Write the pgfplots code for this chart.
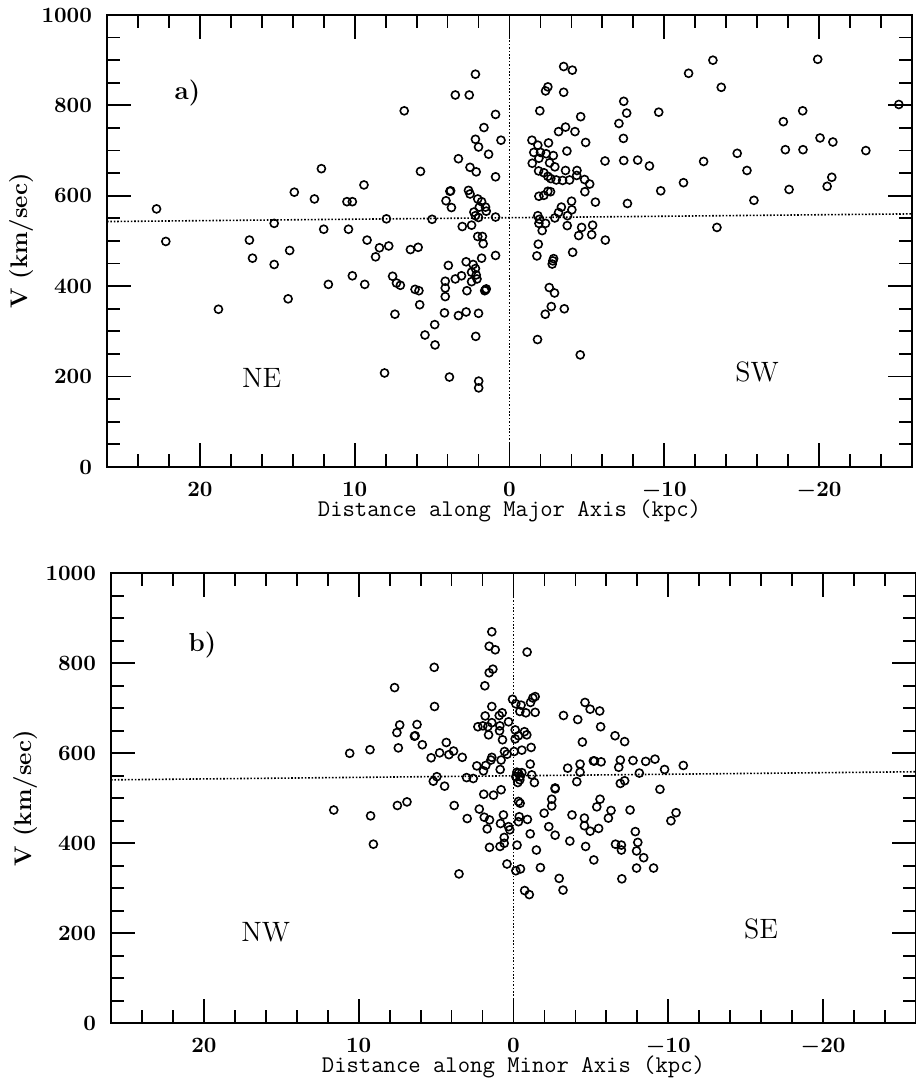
\documentclass[border=0pt]{standalone}
\usepackage{pgfplots}
\pgfplotsset{compat=1.18}

% velocities along the major axis (panel a)
\pgfplotstableread{
x y
2.2 869
3.5 823
2.6 823
6.8 788
0.9 780
1.65 751
2.2 725
0.55 723
2.0 708
1.35 692
3.3 682
2.55 663
2.15 653
5.75 654
0.9 642
12.15 660
9.4 624
13.9 608
12.6 593
10.5 587
10.15 587
3.85 610
3.8 611
2.65 612
2.55 604
4.1 589
3.75 574
2.05 593
1.8 587
1.95 575
1.55 575
1.5 566
2.3 564
2.2 556
2.0 552
0.9 553
22.8 571
22.2 499
15.2 539
7.95 549
5.0 548
3.05 532
2.45 535
12.0 526
10.4 526
16.8 502
9.2 502
2.05 510
1.75 510
1.7 494
16.6 462
14.2 479
8.4 485
7.8 489
8.65 465
6.4 481
5.9 486
0.9 468
1.8 462
15.2 448
3.95 446
2.8 454
2.35 448
2.2 439
2.45 431
2.15 425
10.15 423
3.1 423
3.5 416
4.15 411
2.45 410
2.1 416
11.7 404
9.35 404
7.55 422
7.3 407
7.05 402
6.1 393
5.85 390
4.15 396
2.75 390
1.55 392
1.5 394
1.6 390
4.15 377
14.3 372
18.8 349
5.8 359
7.4 338
4.2 341
3.3 335
2.8 343
2.0 340
5.46 292
4.81 270
4.83 315
2.18 289
8.07 208
3.88 199
1.99 190
1.99 175
-3.5 886
-4.06 878
-2.48 841
-2.33 832
-3.5 829
-1.96 788
-4.6 775
-3.17 742
-3.62 752
-4.23 742
-4.92 718
-1.45 723
-2.52 717
-1.83 712
-1.57 696
-2.0 696
-2.37 693
-2.83 689
-2.59 673
-2.93 664
-1.47 672
-1.9 683
-3.71 699
-1.88 655
-2.22 651
-2.48 643
-2.67 638
-3.02 635
-3.43 634
-3.88 635
-3.62 656
-4.36 656
-4.34 645
-4.85 636
-5.18 626
-4.87 609
-5.55 586
-1.9 599
-2.22 601
-2.48 610
-2.65 609
-4.01 588
-4.03 569
-3.35 575
-3.17 563
-2.93 551
-3.75 556
-1.83 556
-1.94 548
-1.9 539
-2.11 523
-2.33 539
-3.73 534
-4.66 530
-5.37 535
-4.47 512
-5.31 514
-6.19 502
-1.86 493
-1.77 467
-4.08 475
-2.85 461
-2.8 456
-2.76 449
-2.57 397
-2.91 385
-2.7 355
-2.31 338
-3.54 350
-1.81 282
-4.57 248
-6.17 677
-7.07 760
-7.38 809
-7.57 783
-7.36 727
-7.38 678
-8.28 679
-9.04 666
-7.62 583
-9.64 785
-9.77 611
-11.24 629
-11.57 871
-12.54 676
-13.14 900
-13.68 840
-13.4 530
-14.71 694
-15.34 656
-15.79 590
-17.69 764
-17.82 702
-18.06 614
-18.94 788
-18.96 702
-19.91 902
-20.06 728
-20.89 719
-20.82 641
-20.52 621
-23.02 700
-25.15 802
}\majortab

% velocities along the minor axis (panel b)
\pgfplotstableread{
x y
1.4 870
1.57 838
1.18 830
1.57 779
1.33 787
1.85 750
5.12 791
7.68 746
5.1 704
7.35 663
7.53 646
6.23 664
6.4 638
6.35 639
5.89 619
7.44 612
10.58 600
9.27 608
4.34 624
4.77 601
4.17 597
3.87 605
3.31 591
5.32 590
4.95 548
5.18 538
4.45 527
3.03 546
2.6 544
11.61 474
9.23 461
7.5 484
6.88 492
3.83 484
2.99 455
2.21 476
1.89 458
1.55 452
1.7 432
1.92 509
1.29 507
1.4 704
1.83 683
1.4 668
1.66 659
1.98 661
2.3 659
1.61 641
1.4 591
1.46 585
1.79 573
2.37 572
1.94 561
-0.88 825
0.06 720
-0.15 710
-1.4 726
-1.25 723
-1.1 713
-0.49 707
-0.41 693
-0.8 690
-1.4 691
0.73 690
0.92 684
0.32 670
0.88 661
0.9 650
-0.11 652
-0.71 648
-0.86 641
-0.32 639
-0.11 632
0.71 630
-0.54 607
-1.14 613
-0.04 604
0.58 604
0.41 598
0.8 585
0.86 564
-1.08 576
-0.22 558
-0.32 556
-0.54 557
-0.15 548
-0.43 548
-0.28 535
-0.41 541
-1.18 552
-1.35 535
-0.32 493
-0.43 489
-0.37 459
-0.32 448
-0.9 453
-1.08 421
0.65 463
0.84 444
0.32 437
0.24 430
0.6 413
0.8 519
-2.69 521
-2.69 523
-2.47 498
-2.47 483
-1.98 467
-2.28 437
-2.69 418
-3.78 463
-4.58 456
-4.58 439
-4.95 427
-5.5 433
-5.38 481
-5.59 498
-6.13 456
-6.3 473
-7.53 474
-7.87 426
-9.46 520
-10.17 450
-10.5 468
-3.5 567
-4.09 537
-4.3 576
-4.3 558
-5.16 583
-5.23 583
-5.66 581
-6.8 569
-6.9 585
-6.9 533
-7.18 539
-7.72 584
-8.13 556
-8.54 582
-9.14 587
-9.76 564
-10.97 573
-3.23 684
-4.15 675
-4.62 713
-4.95 698
-5.57 694
-5.63 659
-4.45 625
-6.56 639
-7.18 626
9.05 398
1.55 391
0.87 393
0.6 400
-0.23 396
0.42 354
-0.15 339
-0.45 343
-1.48 385
-1.74 346
-0.72 295
-1.02 286
-3.64 405
-2.95 322
-3.2 296
3.52 332
-4.66 393
-5.19 363
-6.59 398
-6.97 396
-6.97 385
-8.03 402
-7.95 383
-8.41 368
-7.95 345
-9.05 345
-7.0 321
}\minortab

\pgfplotsset{
  galaxy/.style={
    scale only axis, width=402.5pt, height=226pt,
    x dir=reverse, xmin=-26, xmax=26, ymin=0, ymax=1000,
    xtick={-20,-10,0,10,20}, minor xtick={-24,-22,...,24},
    ytick={0,200,...,1000}, minor ytick={0,50,...,1000},
    /pgf/number format/1000 sep={},
    tick align=inside, major tick length=12pt, minor tick length=6.5pt,
    axis line style={line width=1pt},
    every tick/.style={black, line width=0.9pt},
    tick label style={font=\fontsize{11}{13}\selectfont\boldmath},
    xticklabel style={yshift=-4pt}, yticklabel style={xshift=-4pt},
    every axis x label/.style={at={(axis description cs:0.5,0)}, yshift=-22pt,
      anchor=center, font=\fontsize{12}{14}\selectfont\ttfamily},
    every axis y label/.style={at={(axis description cs:0,0.5)}, xshift=-42.5pt,
      rotate=90, anchor=center, font=\fontsize{12}{14}\selectfont\bfseries},
    ylabel={V (km/sec)},
  },
  pts/.style={only marks, mark=o, mark size=2pt, black, mark options={line width=0.8pt}},
  guide/.style={black, line width=0.8pt, dash pattern=on 0.8pt off 0.9pt},
}

\begin{document}
\begin{tikzpicture}
\useasboundingbox (0,0) rectangle (458pt,541.5pt);

\begin{axis}[galaxy, at={(53.5pt,308pt)}, anchor=south west,
  xlabel={Distance along Major Axis (kpc)}]
\addplot[guide] coordinates {(26,543) (-26,560)};
\addplot[guide] coordinates {(0,0) (0,1000)};
\addplot[pts] table[x=x,y=y] {\majortab};
\node[font=\fontsize{13}{15}\selectfont\bfseries] at (axis cs:20.8,828) {a)};
\node[font=\fontsize{14}{16}\selectfont] at (axis cs:16,198) {NE};
\node[font=\fontsize{14}{16}\selectfont] at (axis cs:-16,210) {SW};
\end{axis}

\begin{axis}[galaxy, height=225pt, at={(55.5pt,29.85pt)}, anchor=south west,
  xlabel={Distance along Minor Axis (kpc)}]
\addplot[guide] coordinates {(26,541) (-26,559)};
\addplot[guide] coordinates {(0,0) (0,1000)};
\addplot[pts] table[x=x,y=y] {\minortab};
\node[font=\fontsize{13}{15}\selectfont\bfseries] at (axis cs:20.1,841) {b)};
\node[font=\fontsize{14}{16}\selectfont] at (axis cs:16,202) {NW};
\node[font=\fontsize{14}{16}\selectfont] at (axis cs:-16,209) {SE};
\end{axis}
\end{tikzpicture}
\end{document}
